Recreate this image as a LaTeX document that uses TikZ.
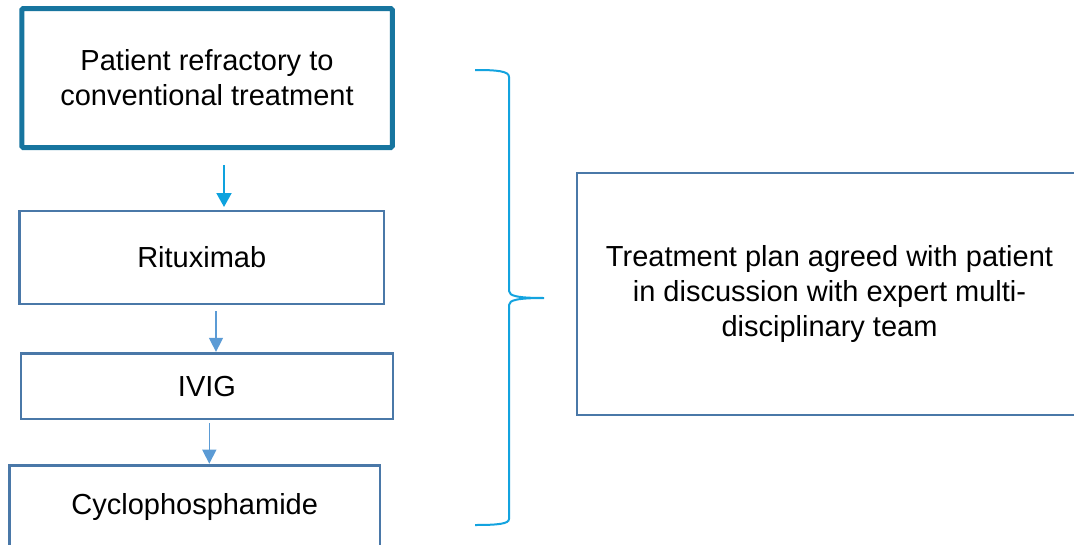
\documentclass[tikz,border=0pt]{standalone}
\usepackage{fontspec}
\setmainfont{Liberation Sans}
\usetikzlibrary{arrows.meta,calc}
\definecolor{topblue}{HTML}{17759F}
\definecolor{boxblue}{HTML}{4A78A8}
\definecolor{arrcyan}{HTML}{0EA2DE}
\definecolor{arrblue}{HTML}{5B9BD5}
\definecolor{bracecol}{HTML}{13A3DF}
\begin{document}
\begin{tikzpicture}[x=1pt,y=-1pt,
  every node/.style={font=\fontsize{29}{35}\selectfont, align=center, inner sep=0pt, outer sep=0pt},
  stepbox/.style={draw=boxblue, line width=2.5pt, fill=white, rectangle},
  topbox/.style={draw=topblue, line width=5pt, fill=white, rectangle, rounded corners=1.5pt},
  arrA/.style={draw=arrcyan, line width=2pt, -{Triangle[width=15pt,length=14pt]}},
  arrB/.style={draw=arrblue, line width=1.5pt, -{Triangle[width=14pt,length=14pt]}},
  bracestyle/.style={draw=bracecol, line width=2pt}]
\useasboundingbox (0,0) rectangle (1074,544);

\node[topbox, minimum width=370.5pt, minimum height=139pt] (p) at (207,78)
  {Patient refractory to\\conventional treatment};
\node[stepbox, minimum width=364.5pt, minimum height=93pt] (r) at (201.75,257.5) {Rituximab};
\node[stepbox, minimum width=371.7pt, minimum height=65.7pt] (i) at (207,386.2) {IVIG};
\node[stepbox, minimum width=370.7pt, minimum height=82pt] (c) at (194.7,506.7) {Cyclophosphamide};
\node[stepbox, minimum width=505pt, minimum height=242pt] (t) at (829.5,294)
  {Treatment plan agreed with patient\\in discussion with expert multi-\\disciplinary team};

\coordinate (a1) at ($(p.south)+(17,17.5)$);
\draw[arrA, shorten >=4pt] (a1) -- (a1 |- r.north);
\coordinate (a2) at ($(r.south)+(14.25,7)$);
\draw[arrB, shorten >=1.5pt] (a2) -- (a2 |- i.north);
\coordinate (a3) at ($(i.south)+(2.3,4)$);
\draw[arrB, shorten >=2pt] (a3) -- (a3 |- c.north);

\coordinate (btop) at (475,70);
\coordinate (btip) at (544,298);
\coordinate (bbot) at (475,525);
\draw[bracestyle] (btop) .. controls (497,70) and (509,71) .. (509,77)
  -- (509,291) .. controls (509,296) and (518,298) .. (btip)
  .. controls (518,298) and (509,300) .. (509,305)
  -- (509,519) .. controls (509,524) and (497,525) .. (bbot);
\end{tikzpicture}
\end{document}
